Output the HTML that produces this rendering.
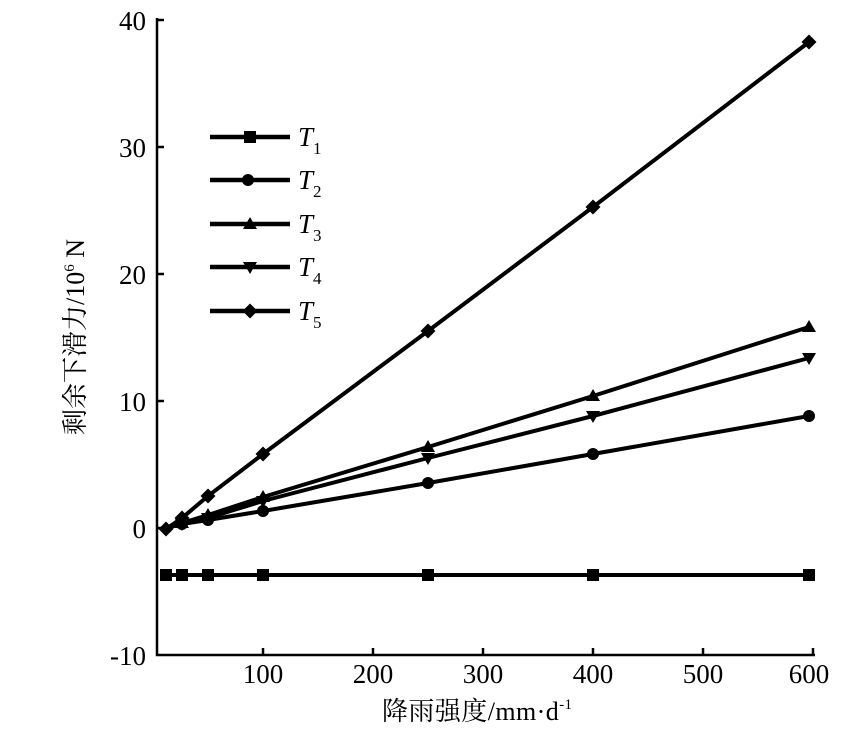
<!DOCTYPE html>
<html><head><meta charset="utf-8"><style>body{margin:0;background:#fff}</style></head><body>
<svg width="850" height="725" xmlns="http://www.w3.org/2000/svg" font-family="Liberation Serif, Noto Serif CJK SC, serif">
<defs>
<rect id="sq" x="-6" y="-6" width="12" height="12" fill="#000"/>
<circle id="ci" r="6" fill="#000"/>
<polygon id="tu" points="0,-7 7,5 -7,5" fill="#000"/>
<polygon id="td" points="0,7 7,-5 -7,-5" fill="#000"/>
<polygon id="di" points="0,-7.5 7.5,0 0,7.5 -7.5,0" fill="#000"/>
</defs>
<g stroke="#000" stroke-width="2.5" fill="none">
<polyline points="157,18 157,655 815,655"/>
<line x1="157" y1="20" x2="164" y2="20"/><line x1="157" y1="147" x2="164" y2="147"/><line x1="157" y1="274" x2="164" y2="274"/><line x1="157" y1="401" x2="164" y2="401"/><line x1="157" y1="528" x2="164" y2="528"/>
<line x1="263" y1="655" x2="263" y2="648"/><line x1="373" y1="655" x2="373" y2="648"/><line x1="483" y1="655" x2="483" y2="648"/><line x1="593" y1="655" x2="593" y2="648"/><line x1="703" y1="655" x2="703" y2="648"/><line x1="813" y1="655" x2="813" y2="648"/>
</g>
<g font-size="27" fill="#000" text-anchor="end">
<text x="146" y="30">40</text><text x="146" y="157">30</text><text x="146" y="284">20</text><text x="146" y="411">10</text><text x="146" y="538">0</text><text x="146" y="665">-10</text>
</g>
<g font-size="27" fill="#000" text-anchor="middle">
<text x="263" y="683">100</text><text x="373" y="683">200</text><text x="483" y="683">300</text><text x="593" y="683">400</text><text x="703" y="683">500</text><text x="809" y="683">600</text>
</g>
<text x="382" y="720" font-size="26" fill="#000" textLength="190">降雨强度/mm·d<tspan font-size="15" dy="-11">-1</tspan></text>
<text transform="translate(84,337) rotate(-90)" font-size="26" text-anchor="middle" fill="#000">剩余下滑力/10<tspan font-size="15" dy="-10">6</tspan><tspan dy="10"> N</tspan></text>
<g stroke="#000" stroke-width="4" fill="none">
<polyline points="166,575 182,575 208,575 263,575 428,575 593,575 809,575"/>
<polyline points="166,528 182,524 208,520 263,511 428,483 593,454 809,416"/>
<polyline points="166,528 182,523 208,515 263,497 428,447 593,396 809,327"/>
<polyline points="166,528 182,524 208,518 263,501 428,458 593,416 809,358"/>
<polyline points="166,529 182,518 208,496 263,454 428,331 593,207 809,42"/>
</g>
<g>
<use href="#sq" x="166" y="575"/><use href="#sq" x="182" y="575"/><use href="#sq" x="208" y="575"/><use href="#sq" x="263" y="575"/><use href="#sq" x="428" y="575"/><use href="#sq" x="593" y="575"/><use href="#sq" x="809" y="575"/>
<use href="#ci" x="182" y="524"/><use href="#ci" x="208" y="520"/><use href="#ci" x="263" y="511"/><use href="#ci" x="428" y="483"/><use href="#ci" x="593" y="454"/><use href="#ci" x="809" y="416"/>
<use href="#tu" x="182" y="523"/><use href="#tu" x="208" y="515"/><use href="#tu" x="263" y="497"/><use href="#tu" x="428" y="447"/><use href="#tu" x="593" y="396"/><use href="#tu" x="809" y="327"/>
<use href="#td" x="182" y="524"/><use href="#td" x="208" y="518"/><use href="#td" x="263" y="501"/><use href="#td" x="428" y="458"/><use href="#td" x="593" y="416"/><use href="#td" x="809" y="358"/>
<use href="#di" x="166" y="529"/><use href="#di" x="182" y="518"/><use href="#di" x="208" y="496"/><use href="#di" x="263" y="454"/><use href="#di" x="428" y="331"/><use href="#di" x="593" y="207"/><use href="#di" x="809" y="42"/>
</g>
<g stroke="#000" stroke-width="4.5">
<line x1="210" y1="137" x2="290" y2="137"/><line x1="210" y1="180" x2="290" y2="180"/><line x1="210" y1="224" x2="290" y2="224"/><line x1="210" y1="267" x2="290" y2="267"/><line x1="210" y1="311" x2="290" y2="311"/>
</g>
<use href="#sq" x="250" y="137"/><use href="#ci" x="248" y="180"/><use href="#tu" x="250" y="224"/><use href="#td" x="250" y="267"/><use href="#di" x="250" y="311"/>
<g font-size="27" font-style="italic" fill="#000">
<text x="298" y="146">T<tspan font-size="17" font-style="normal" dy="8">1</tspan></text>
<text x="298" y="189">T<tspan font-size="17" font-style="normal" dy="8">2</tspan></text>
<text x="298" y="233">T<tspan font-size="17" font-style="normal" dy="8">3</tspan></text>
<text x="298" y="276">T<tspan font-size="17" font-style="normal" dy="8">4</tspan></text>
<text x="298" y="320">T<tspan font-size="17" font-style="normal" dy="8">5</tspan></text>
</g>
</svg>
</body></html>
